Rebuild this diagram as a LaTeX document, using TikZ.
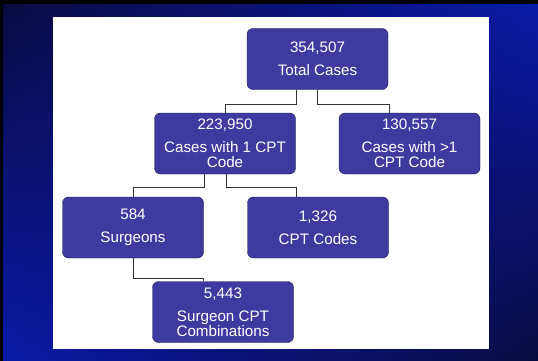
\documentclass[tikz,border=0pt]{standalone}
\usepackage{fontspec}
\setmainfont{Liberation Sans}
\usepackage{xcolor}
\usepackage{tikz}
\usetikzlibrary{positioning,shadings}

\definecolor{boxblue}{RGB}{62,58,160}
\definecolor{boxedge}{RGB}{25,25,80}
\definecolor{navydark}{RGB}{10,10,65}
\definecolor{navyblue}{RGB}{10,26,168}

\begin{document}
\begin{tikzpicture}[x=1pt,y=-1pt,
  box/.style={draw=boxedge,fill=boxblue,rounded corners=6pt,text=white,align=center,
    minimum width=141pt,minimum height=61pt,inner sep=0pt,font=\fontsize{15.2}{15}\selectfont},
  link/.style={black!80,line width=0.8pt}]
  \useasboundingbox (0,0) rectangle (538,361);
  % slide backdrop
  \shade[upper left=navydark,upper right=navyblue,lower left=navyblue,lower right=navydark]
    (0,0) rectangle (538,361);
  \fill[black] (0,0) rectangle (538,4);
  \fill[black] (0,0) rectangle (3,361);
  \fill[white] (53,17) rectangle (489,349);

  \node[box] (total) at (317.5,59) {354,507\\[8pt]Total Cases};
  \node[box] (one) at (225,143.5) {223,950\\[8pt]Cases with 1 CPT\\Code};
  \node[box] (multi) at (409.5,143.5) {130,557\\[8pt]Cases with >1\\CPT Code};
  \node[box] (surg) at (133,227.5) {584\\[8pt]Surgeons};
  \node[box] (codes) at (318,227.5) {1,326\\[8pt]CPT Codes};
  \node[box] (combo) at (223,312) {5,443\\[8pt]Surgeon CPT\\Combinations};

  \draw[link] ([xshift=-21.5pt]total.south) -- ++(0,15) -| (one.north);
  \draw[link] (total.south) -- ++(0,15) -| ([xshift=-20.5pt]multi.north);
  \draw[link] ([xshift=-21pt]one.south) -- ++(0,13) -| (surg.north);
  \draw[link] ([xshift=1pt]one.south) -- ++(0,13) -| ([xshift=-22pt]codes.north);
  \draw[link] (surg.south) -- ++(0,20) -| ([xshift=-20pt]combo.north);
\end{tikzpicture}
\end{document}
